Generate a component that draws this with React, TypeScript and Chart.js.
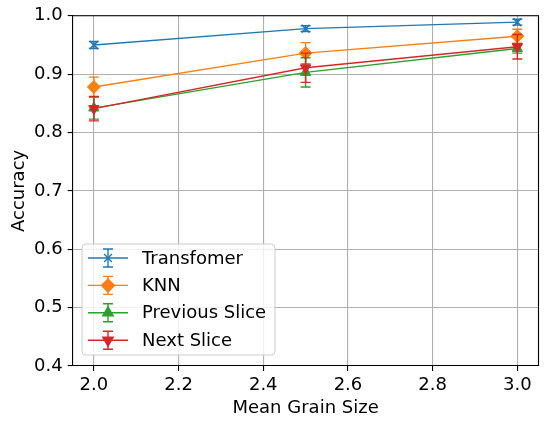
import React, { useEffect, useRef } from "react";
import { Chart, registerables } from "chart.js";
import { drawPoint } from "chart.js/helpers";

Chart.register(...registerables);

const grainSizes = [2.0, 2.5, 3.0];
const xTickValues = [2.0, 2.2, 2.4, 2.6, 2.8, 3.0];
const yTickValues = [0.4, 0.5, 0.6, 0.7, 0.8, 0.9, 1.0];

const seriesNames = ["Transfomer", "KNN", "Previous Slice", "Next Slice"];
const transformerAcc = [0.950, 0.978, 0.989];
const transformerErr = [0.006, 0.005, 0.005];
const knnAcc = [0.878, 0.936, 0.965];
const knnErr = [0.017, 0.018, 0.012];
const prevAcc = [0.842, 0.903, 0.944];
const prevErr = [0.019, 0.025, 0.008];
const nextAcc = [0.841, 0.911, 0.947];
const nextErr = [0.021, 0.025, 0.021];

const colors = ["#1f77b4", "#ff7f0e", "#2ca02c", "#d62728"];
const styles: any[] = [
  { pointStyle: "crossRot", radius: 5.5, rotation: 0 },
  { pointStyle: "rectRot", radius: 6.5, rotation: 0 },
  { pointStyle: "triangle", radius: 6, rotation: 0 },
  { pointStyle: "triangle", radius: 6, rotation: 180 },
];

const FONT = "'DejaVu Sans', sans-serif";
const FS = 18;
const CAP = 5;

function drawErrorBar(ctx: CanvasRenderingContext2D, x: number, y1: number, y2: number, color: string) {
  ctx.save();
  ctx.strokeStyle = color;
  ctx.lineWidth = 1.4;
  ctx.beginPath();
  ctx.moveTo(x, y1);
  ctx.lineTo(x, y2);
  ctx.moveTo(x - CAP, y1);
  ctx.lineTo(x + CAP, y1);
  ctx.moveTo(x - CAP, y2);
  ctx.lineTo(x + CAP, y2);
  ctx.stroke();
  ctx.restore();
}

const errorBarPlugin = {
  id: "errorBars",
  beforeDatasetDraw(chart: any, args: any) {
    const ds = chart.data.datasets[args.index];
    const errs: number[] = ds.errors;
    if (!errs) return;
    const ctx = chart.ctx;
    const ys = chart.scales.y;
    args.meta.data.forEach((pt: any, i: number) => {
      const v = ds.data[i].y;
      drawErrorBar(ctx, pt.x, ys.getPixelForValue(v + errs[i]), ys.getPixelForValue(v - errs[i]), ds.borderColor);
    });
  },
};

const frameAndLegendPlugin = {
  id: "frameLegend",
  afterDraw(chart: any) {
    const ctx = chart.ctx;
    const { left, right, top, bottom } = chart.chartArea;
    ctx.save();
    ctx.strokeStyle = "#000";
    ctx.lineWidth = 1.1;
    ctx.beginPath();
    ctx.moveTo(left, top);
    ctx.lineTo(right, top);
    ctx.lineTo(right, bottom);
    ctx.stroke();

    // legend
    const bx = 82, by = 244, bw = 193, bh = 111, r = 4;
    ctx.beginPath();
    ctx.moveTo(bx + r, by);
    ctx.lineTo(bx + bw - r, by);
    ctx.quadraticCurveTo(bx + bw, by, bx + bw, by + r);
    ctx.lineTo(bx + bw, by + bh - r);
    ctx.quadraticCurveTo(bx + bw, by + bh, bx + bw - r, by + bh);
    ctx.lineTo(bx + r, by + bh);
    ctx.quadraticCurveTo(bx, by + bh, bx, by + bh - r);
    ctx.lineTo(bx, by + r);
    ctx.quadraticCurveTo(bx, by, bx + r, by);
    ctx.closePath();
    ctx.fillStyle = "rgba(255,255,255,0.8)";
    ctx.fill();
    ctx.strokeStyle = "#cccccc";
    ctx.lineWidth = 1;
    ctx.stroke();

    ctx.font = `${FS}px ${FONT}`;
    ctx.textBaseline = "middle";
    ctx.textAlign = "left";
    seriesNames.forEach((name, i) => {
      const cy = 258 + i * 27.4;
      const c = colors[i];
      ctx.strokeStyle = c;
      ctx.lineWidth = 1.4;
      ctx.beginPath();
      ctx.moveTo(88, cy);
      ctx.lineTo(128, cy);
      ctx.stroke();
      drawErrorBar(ctx, 108, cy - 9, cy + 9, c);
      ctx.fillStyle = c;
      ctx.strokeStyle = c;
      drawPoint(ctx, { ...styles[i], borderWidth: i === 0 ? 1.6 : 1 }, 108, cy);
      ctx.fillStyle = "#000";
      ctx.fillText(name, 142, cy + 1);
    });
    ctx.restore();
  },
};

export default function App() {
  const ref = useRef<HTMLCanvasElement>(null);
  useEffect(() => {
    if (!ref.current) return;
    const accs = [transformerAcc, knnAcc, prevAcc, nextAcc];
    const errs = [transformerErr, knnErr, prevErr, nextErr];
    const datasets = seriesNames.map((name, i) => ({
      label: name,
      data: grainSizes.map((x, j) => ({ x, y: accs[i][j] })),
      errors: errs[i],
      borderColor: colors[i],
      backgroundColor: colors[i],
      pointBackgroundColor: colors[i],
      pointBorderColor: colors[i],
      pointStyle: styles[i].pointStyle,
      pointRadius: styles[i].radius,
      pointRotation: styles[i].rotation,
      pointBorderWidth: i === 0 ? 1.6 : 1,
      borderWidth: 1.3,
      tension: 0,
      order: 3 - i,
    }));
    Chart.defaults.font.family = FONT;
    Chart.defaults.color = "#000";
    const chart = new Chart(ref.current, {
      type: "line",
      data: { datasets } as any,
      options: {
        animation: false,
        responsive: false,
        layout: { padding: { top: 15, right: 0.5, left: 0, bottom: 0 } },
        plugins: { legend: { display: false }, tooltip: { enabled: false } },
        scales: {
          x: {
            type: "linear",
            min: 1.95,
            max: 3.05,
            afterBuildTicks: (s: any) => { s.ticks = xTickValues.map((v) => ({ value: v })); },
            afterFit: (s: any) => { s.height = 55; },
            ticks: { font: { size: FS }, color: "#000", padding: 4, maxRotation: 0, callback: (v: any) => Number(v).toFixed(1) },
            grid: { color: "#b0b0b0", lineWidth: 1.1, tickColor: "#000", tickLength: 5 },
            border: { color: "#000", width: 1.1 },
            title: { display: true, text: "Mean Grain Size", font: { size: FS }, color: "#000", padding: { top: 0, bottom: 2 } },
          },
          y: {
            min: 0.4,
            max: 1.0,
            afterBuildTicks: (s: any) => { s.ticks = yTickValues.map((v) => ({ value: v })); },
            afterFit: (s: any) => { s.width = 72.7; },
            ticks: { font: { size: FS }, color: "#000", padding: 5, callback: (v: any) => Number(v).toFixed(1) },
            grid: { color: "#b0b0b0", lineWidth: 1.1, tickColor: "#000", tickLength: 5 },
            border: { color: "#000", width: 1.1 },
            title: { display: true, text: "Accuracy", font: { size: FS }, color: "#000", padding: { top: 9, bottom: 0 } },
          },
        },
      },
      plugins: [errorBarPlugin, frameAndLegendPlugin],
    } as any);
    return () => chart.destroy();
  }, []);
  return (
    <canvas
      ref={ref}
      width={546}
      height={421}
      style={{ position: "fixed", left: 0, top: 0, width: 546, height: 421, display: "block", background: "#fff" }}
    />
  );
}
